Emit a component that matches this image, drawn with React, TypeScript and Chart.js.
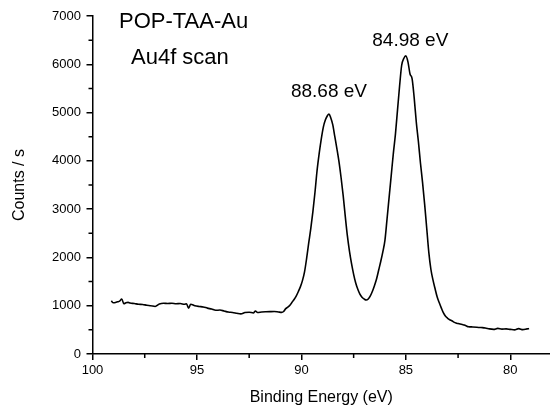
import React, { useEffect, useRef } from "react";
import { Chart, registerables } from "chart.js";

Chart.register(...registerables);

// ---- Data ----
const energies: number[] = [
  99.1, 99.0, 98.9, 98.8, 98.7, 98.6, 98.5, 98.4, 98.3, 98.2, 98.0, 97.8, 97.6, 97.4, 97.2, 97.0,
  96.8, 96.6, 96.4, 96.2, 96.0, 95.8, 95.6, 95.5, 95.4, 95.3, 95.1, 94.9, 94.7, 94.5, 94.3, 94.1,
  93.9, 93.7, 93.5, 93.3, 93.1, 92.9, 92.7, 92.5, 92.3, 92.2, 92.1, 91.9, 91.7, 91.5, 91.3, 91.1,
  90.95, 90.85, 90.75, 90.65, 90.55, 90.45, 90.35, 90.25, 90.15, 90.05, 89.95, 89.85, 89.75, 89.65,
  89.55, 89.45, 89.35, 89.25, 89.15, 89.05, 88.95, 88.85, 88.75, 88.68, 88.6, 88.5, 88.4, 88.3,
  88.2, 88.1, 88.0, 87.9, 87.8, 87.7, 87.6, 87.5, 87.4, 87.3, 87.2, 87.1, 87.0, 86.9, 86.8, 86.7,
  86.6, 86.5, 86.4, 86.3, 86.2, 86.1, 86.0, 85.9, 85.8, 85.7, 85.6, 85.5, 85.4, 85.3, 85.2, 85.1,
  85.0, 84.9, 84.8, 84.7, 84.6, 84.5, 84.4, 84.3, 84.2, 84.1, 84.0, 83.9, 83.8, 83.7, 83.6, 83.5,
  83.4, 83.3, 83.2, 83.1, 83.0, 82.9, 82.8, 82.7, 82.6, 82.5, 82.4, 82.3, 82.2, 82.1, 82.0, 81.8,
  81.6, 81.4, 81.2, 81.0, 80.8, 80.6, 80.4, 80.2, 80.0, 79.8, 79.6, 79.4, 79.2, 79.1,
];

const counts: number[] = [
  1100, 1060, 1065, 1080, 1095, 1140, 1040, 1060, 1070, 1055, 1045, 1030, 1025, 1010, 1000, 985,
  1035, 1050, 1045, 1050, 1040, 1045, 1030, 1040, 950, 1030, 1000, 985, 975, 950, 930, 905,
  910, 890, 870, 860, 845, 830, 860, 865, 850, 890, 860, 870, 875, 878, 880, 870,
  862, 880, 940, 970, 1010, 1070, 1130, 1200, 1290, 1390, 1520, 1700, 1980, 2300,
  2600, 2950, 3350, 3800, 4150, 4450, 4700, 4850, 4940, 4970, 4900, 4750, 4500, 4250,
  3980, 3650, 3280, 2850, 2450, 2130, 1870, 1650, 1470, 1340, 1240, 1175, 1140, 1118, 1140, 1205,
  1300, 1420, 1560, 1740, 1920, 2120, 2360, 2800, 3250, 3700, 4150, 4550, 5050, 5550, 5980, 6120,
  6175, 6050, 5800, 5700, 5300, 4800, 4400, 3950, 3550, 3100, 2600, 2100, 1750, 1530, 1350, 1180,
  1060, 950, 850, 780, 740, 710, 690, 660, 640, 630, 620, 610, 600, 580, 565, 560,
  555, 548, 540, 520, 510, 530, 515, 520, 510, 500, 525, 505, 520, 525,
];

const xMajorTicks: number[] = [80, 85, 90, 95, 100];
const xMinorTicks: number[] = [82.5, 87.5, 92.5, 97.5];
const yMajorTicks: number[] = [0, 1000, 2000, 3000, 4000, 5000, 6000, 7000];
const yMinorTicks: number[] = [500, 1500, 2500, 3500, 4500, 5500, 6500];

const sampleName = "POP-TAA-Au";
const scanName = "Au4f scan";
const peakEnergies: number[] = [88.68, 84.98];
const peakLabels: string[] = ["88.68 eV", "84.98 eV"];

const xTitle = "Binding Energy (eV)";
const yTitle = "Counts / s";

const FONT = '"Liberation Sans", Arial, Helvetica, sans-serif';

const decorPlugin = {
  id: "decor",
  afterDraw(chart: any) {
    const ctx = chart.ctx as CanvasRenderingContext2D;
    const xs = chart.scales.x;
    const ys = chart.scales.y;
    const { left, bottom, top } = chart.chartArea;
    ctx.save();
    ctx.strokeStyle = "#000";
    ctx.lineWidth = 1.5;
    ctx.beginPath();
    xMinorTicks.forEach((v) => {
      const p = xs.getPixelForValue(v);
      ctx.moveTo(p, bottom);
      ctx.lineTo(p, bottom + 4);
    });
    yMinorTicks.forEach((v) => {
      const p = ys.getPixelForValue(v);
      ctx.moveTo(left, p);
      ctx.lineTo(left - 4, p);
    });
    ctx.stroke();

    ctx.fillStyle = "#000";
    ctx.textBaseline = "alphabetic";
    ctx.textAlign = "left";
    ctx.font = `22px ${FONT}`;
    ctx.fillText(sampleName, left + 26.5, top + 12);
    ctx.fillText(scanName, left + 38.5, top + 48);

    ctx.font = `19px ${FONT}`;
    ctx.textAlign = "center";
    const offsets = [
      { dx: 0, dy: 17 },
      { dx: 4, dy: 10 },
    ];
    peakEnergies.forEach((e, i) => {
      let best = 0;
      energies.forEach((v, j) => {
        if (Math.abs(v - e) < Math.abs(energies[best] - e)) best = j;
      });
      const px = xs.getPixelForValue(e) + offsets[i].dx;
      const py = ys.getPixelForValue(counts[best]) - offsets[i].dy;
      ctx.fillText(peakLabels[i], px, py);
    });
    ctx.restore();
  },
};

export default function App() {
  const ref = useRef<HTMLCanvasElement | null>(null);

  useEffect(() => {
    if (!ref.current) return;
    const chart = new Chart(ref.current, {
      type: "line",
      data: {
        datasets: [
          {
            data: energies.map((e, i) => ({ x: e, y: counts[i] })),
            borderColor: "#000",
            borderWidth: 1.6,
            pointRadius: 0,
            fill: false,
            cubicInterpolationMode: "monotone",
          },
        ],
      },
      options: {
        animation: false,
        responsive: false,
        layout: { padding: { top: 16, right: 0, bottom: 0, left: 0 } },
        plugins: { legend: { display: false }, tooltip: { enabled: false } },
        scales: {
          x: {
            type: "linear",
            reverse: true,
            min: 78.1,
            max: 100,
            afterBuildTicks: (axis: any) => {
              axis.ticks = xMajorTicks.map((v) => ({ value: v }));
            },
            afterFit: (axis: any) => {
              axis.height = 58;
            },
            grid: {
              drawOnChartArea: false,
              drawTicks: true,
              tickLength: 6,
              color: "#000",
              lineWidth: 1.5,
            },
            border: { display: true, color: "#000", width: 1.5 },
            ticks: {
              color: "#000",
              font: { family: FONT, size: 13 },
              padding: 3,
              maxRotation: 0,
              autoSkip: false,
              callback: (v: any) => String(v),
            },
            title: {
              display: true,
              text: xTitle,
              color: "#000",
              font: { family: FONT, size: 16 },
              padding: { top: 0, bottom: 5 },
            },
          },
          y: {
            type: "linear",
            min: 0,
            max: 7000,
            afterBuildTicks: (axis: any) => {
              axis.ticks = yMajorTicks.map((v) => ({ value: v }));
            },
            afterFit: (axis: any) => {
              axis.width = 92.5;
            },
            grid: {
              drawOnChartArea: false,
              drawTicks: true,
              tickLength: 6,
              color: "#000",
              lineWidth: 1.5,
            },
            border: { display: true, color: "#000", width: 1.5 },
            ticks: {
              color: "#000",
              font: { family: FONT, size: 13 },
              padding: 5.5,
              autoSkip: false,
              callback: (v: any) => String(v),
            },
            title: {
              display: true,
              text: yTitle,
              color: "#000",
              font: { family: FONT, size: 16 },
              padding: { top: 10, bottom: 0 },
            },
          },
        },
      },
      plugins: [decorPlugin],
    } as any);
    return () => chart.destroy();
  }, []);

  return (
    <div style={{ position: "absolute", left: 0, top: 0, width: 550, height: 412, background: "#fff" }}>
      <canvas ref={ref} width={550} height={412} style={{ display: "block" }} />
    </div>
  );
}
